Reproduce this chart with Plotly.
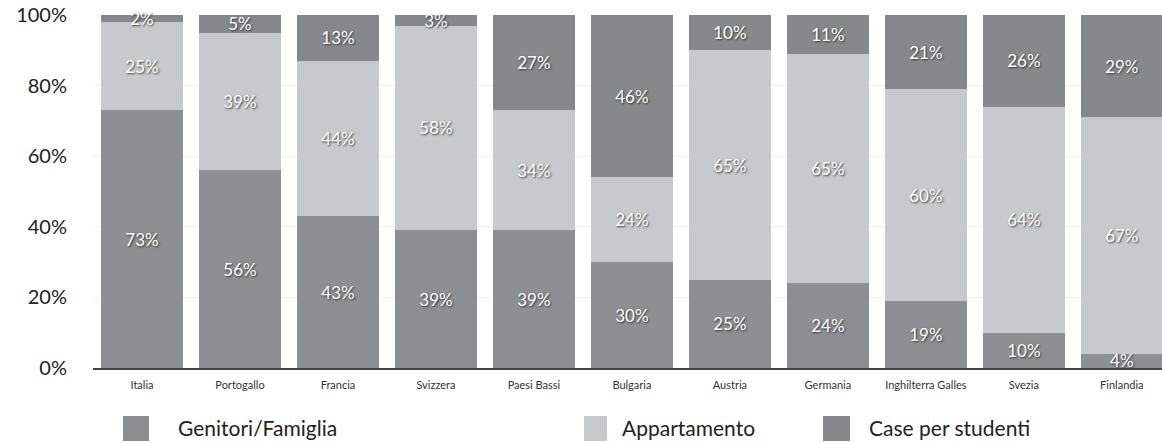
import plotly.graph_objects as go

# Dove vivono gli studenti universitari (quota percentuale per paese)
paesi = ["Italia", "Portogallo", "Francia", "Svizzera", "Paesi Bassi", "Bulgaria",
         "Austria", "Germania", "Inghilterra Galles", "Svezia", "Finlandia"]
genitori = [73, 56, 43, 39, 39, 30, 25, 24, 19, 10, 4]
appartamento = [25, 39, 44, 58, 34, 24, 65, 65, 60, 64, 67]
case_studenti = [2, 5, 13, 3, 27, 46, 10, 11, 21, 26, 29]

serie = [
    ("Genitori/Famiglia", genitori, "#8d9092"),
    ("Appartamento", appartamento, "#c7cacc"),
    ("Case per studenti", case_studenti, "#86898b"),
]

FONT = "Lato, 'Open Sans', sans-serif"
W, H = 1162, 443
ML, MR, MT, MB = 93, 0, 15, 75

fig = go.Figure()
for nome, valori, colore in serie:
    fig.add_trace(go.Bar(
        x=paesi, y=valori, name=nome,
        marker=dict(color=colore, line=dict(width=0)),
        text=[f"{v}%" for v in valori],
        textposition="inside", insidetextanchor="middle",
        constraintext="none", cliponaxis=False,
        textfont=dict(family=FONT, size=17, color="white",
                      shadow="1px 1px 2px rgba(40,40,40,0.9)"),
        showlegend=False,
    ))

# Legenda disegnata a mano sotto il grafico
plot_w = W - ML - MR
plot_h = H - MT - MB
def px_x(p):
    return (p - ML) / plot_w
def px_y(p):
    return (H - MB - p) / plot_h

legenda = [(123, 149, 176), (584, 607, 620), (823, 850, 867)]
for (x0, x1, xt), (nome, _, colore) in zip(legenda, serie):
    fig.add_shape(type="rect", xref="paper", yref="paper",
                  x0=px_x(x0), x1=px_x(x1), y0=px_y(441), y1=px_y(416),
                  fillcolor=colore, line=dict(width=0))
    fig.add_annotation(xref="paper", yref="paper", x=px_x(xt), y=px_y(428),
                       text=nome, showarrow=False, xanchor="left", yanchor="middle",
                       font=dict(family=FONT, size=21, color="#222"))

fig.update_layout(
    width=W, height=H,
    margin=dict(l=ML, r=MR, t=MT, b=MB, pad=0),
    barmode="stack", bargap=0.163,
    plot_bgcolor="white", paper_bgcolor="white",
    xaxis=dict(range=[-0.5, 10.41], showgrid=False, showline=True,
               linecolor="#444", linewidth=1.5, ticks="",
               tickfont=dict(family=FONT, size=11, color="#333"),
               ticklabelstandoff=6),
    yaxis=dict(range=[0, 100], tickvals=[0, 20, 40, 60, 80, 100],
               ticktext=["0%", "20%", "40%", "60%", "80%", "100%"],
               showgrid=True, gridcolor="#f0f0f0", gridwidth=1,
               zeroline=False, showline=False, ticks="",
               tickfont=dict(family=FONT, size=20, color="#222"),
               ticklabelstandoff=25),
)

fig.write_html("out.html")
